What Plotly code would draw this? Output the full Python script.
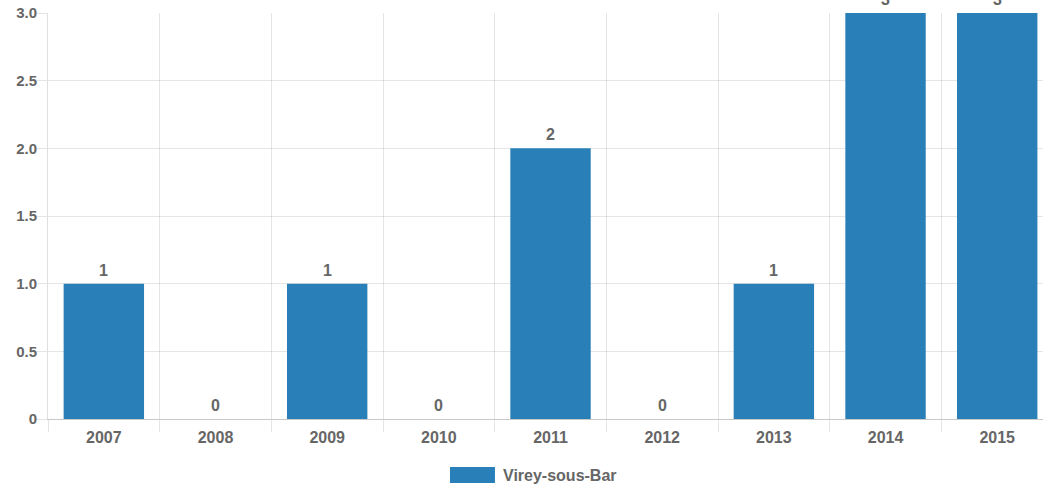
import plotly.graph_objects as go

# Yearly counts for Virey-sous-Bar
years = ["2007", "2008", "2009", "2010", "2011", "2012", "2013", "2014", "2015"]
counts = [1, 0, 1, 0, 2, 0, 1, 3, 3]
series_name = "Virey-sous-Bar"

y_tickvals = [0, 0.5, 1, 1.5, 2, 2.5, 3]
y_ticktext = ["0", "0.5", "1.0", "1.5", "2.0", "2.5", "3.0"]

BAR_COLOR = "#2980b9"
TEXT_COLOR = "#666666"
GRID_COLOR = "rgba(0,0,0,0.1)"
FONT = "Liberation Sans, Arial, Helvetica, sans-serif"
FONT_SIZE = 16

fig = go.Figure()
fig.add_trace(go.Bar(
    x=years,
    y=counts,
    name=series_name,
    width=0.72,
    marker=dict(color=BAR_COLOR, line=dict(width=0)),
    showlegend=False,
    hoverinfo="x+y",
))

# value labels above each bar (category axes take the serial index here)
for i, v in enumerate(counts):
    fig.add_annotation(
        x=i, y=v, xref="x", yref="y",
        text=f"<b>{v}</b>", showarrow=False,
        yanchor="bottom", yshift=3,
        font=dict(family=FONT, size=FONT_SIZE, color=TEXT_COLOR),
    )

# legend drawn as a swatch + label below the plot
legend_y = -0.138
fig.add_shape(
    type="rect", xref="paper", yref="paper",
    xsizemode="pixel", ysizemode="pixel",
    xanchor=0.404, yanchor=legend_y,
    x0=0, x1=45, y0=-8, y1=8,
    fillcolor=BAR_COLOR, line=dict(width=0),
)
fig.add_annotation(
    x=0.4553, y=legend_y, xref="paper", yref="paper",
    xanchor="left", yanchor="middle", showarrow=False,
    text=f"<b>{series_name}</b>",
    font=dict(family=FONT, size=FONT_SIZE, color=TEXT_COLOR),
)

fig.update_layout(
    width=1043, height=485,
    margin=dict(l=48, r=0, t=13, b=66),
    paper_bgcolor="white", plot_bgcolor="white",
    font=dict(family=FONT, size=FONT_SIZE, color=TEXT_COLOR),
    xaxis=dict(
        type="category",
        range=[-0.5, len(years) - 0.59],
        tickson="boundaries",
        tickangle=0,
        showgrid=True, gridcolor=GRID_COLOR, gridwidth=1,
        ticks="outside", ticklen=12, tickcolor=GRID_COLOR,
        ticklabelstandoff=4,
        showline=True, linecolor="#c8c8c8", linewidth=1,
        tickfont=dict(family=FONT, size=FONT_SIZE, color=TEXT_COLOR, weight="bold"),
        fixedrange=True,
    ),
    yaxis=dict(
        range=[0, 3],
        tickvals=y_tickvals, ticktext=y_ticktext,
        showgrid=True, gridcolor=GRID_COLOR, gridwidth=1,
        zeroline=False,
        ticks="outside", ticklen=10, tickcolor=GRID_COLOR,
        ticklabelstandoff=-3,
        showline=True, linecolor="rgba(0,0,0,0.12)", linewidth=1,
        tickfont=dict(family=FONT, size=FONT_SIZE - 1, color=TEXT_COLOR, weight="bold"),
        fixedrange=True,
    ),
)

fig.write_html("out.html")
